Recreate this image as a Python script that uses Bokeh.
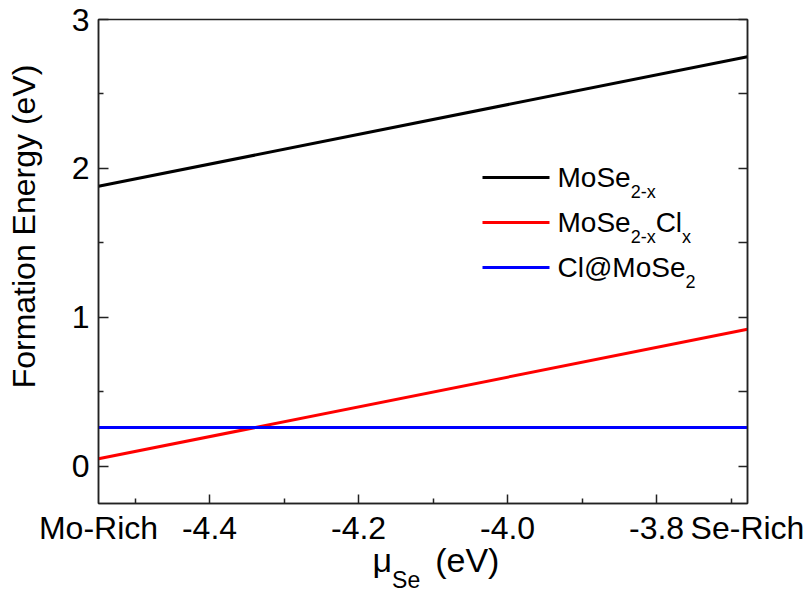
from bokeh.plotting import figure
from bokeh.layouts import column, row
from bokeh.models import (Range1d, LinearAxis, FixedTicker, PrintfTickFormatter, Label,
                          CustomJSTickFormatter)
from bokeh.embed import file_html
from bokeh.resources import INLINE

# ---------------- data ----------------
mu_se = [-4.549, -3.678]            # Mo-rich ... Se-rich limits of mu_Se (eV)
e_mose2x = [1.88, 2.75]             # MoSe2-x
e_mose2xclx = [0.05, 0.92]          # MoSe2-xClx
e_cl_mose2 = [0.26, 0.26]           # Cl@MoSe2
x_major = [-4.4, -4.2, -4.0, -3.8]
x_minor = [-4.5, -4.3, -4.1, -3.9, -3.7]
y_major = [0, 1, 2, 3]
y_minor = [0.5, 1.5, 2.5]
y_limits = [-0.25, 3.0]
end_labels = ["Mo-Rich", "Se-Rich"]
y_title = "Formation Energy (eV)"

# ---------------- layout ----------------
FONT = "Liberation Sans"
W, H = 808, 591
LEFT_W = 45                       # strip holding the y title
ML, MR, MT = 98, 61, 19           # frame margins on the full canvas
TOP_H = 505                       # height of the row with the plot
FRAME_BOTTOM = 503
BOT_H = H - TOP_H                 # strip with x tick labels and x title
BOT_T = 35
FW = W - ML - MR
FH = FRAME_BOTTOM - MT
TICK_FS = 32
TITLE_FS = 32
XTITLE_FS = 34
LEG_FS = 28
LEG_SUB_FS = 18
AX_COL = "#222222"

xr = Range1d(mu_se[0], mu_se[-1])

p = figure(width=W - LEFT_W, height=TOP_H, output_backend="svg", toolbar_location=None,
           x_range=xr, y_range=Range1d(*y_limits),
           min_border_left=ML - LEFT_W, min_border_right=MR, min_border_top=MT,
           min_border_bottom=TOP_H - FRAME_BOTTOM)
p.grid.visible = False
p.outline_line_color = AX_COL
p.outline_line_width = 1.5

def style_axis(ax, ticks, minors, tin=9, min_in=5):
    ax.ticker = FixedTicker(ticks=ticks, minor_ticks=minors)
    ax.axis_line_color = AX_COL
    ax.axis_line_width = 1.5
    ax.major_tick_line_color = AX_COL
    ax.major_tick_line_width = 1.5
    ax.minor_tick_line_color = AX_COL
    ax.minor_tick_line_width = 1.5
    ax.major_tick_in = tin
    ax.major_tick_out = 0
    ax.minor_tick_in = min_in
    ax.minor_tick_out = 0
    ax.major_label_text_font = FONT
    ax.major_label_text_font_size = f"{TICK_FS}px"
    ax.major_label_text_color = "black"

def hide_labels(ax):
    ax.formatter = CustomJSTickFormatter(code="return ''")
    ax.major_label_text_font_size = "0px"
    ax.major_label_standoff = 0

xa = p.xaxis[0]
style_axis(xa, x_major, x_minor)
hide_labels(xa)

ya = p.yaxis[0]
style_axis(ya, y_major, y_minor, tin=10)
ya.major_label_standoff = 9

ra = LinearAxis()
style_axis(ra, y_major, y_minor, tin=9, min_in=9)
hide_labels(ra)
p.add_layout(ra, "right")

# ---------------- data lines ----------------
line_colors = ["black", "#ff0000", "#0000ff"]
series = [e_mose2x, e_mose2xclx, e_cl_mose2]
for ys, c in zip(series, line_colors):
    p.line(mu_se, ys, line_color=c, line_width=3)

# ---------------- rich text helpers ----------------
ARIAL_W = {"M": .833, "o": .556, "S": .667, "e": .556, "2": .556, "-": .333, "x": .5,
           "C": .722, "l": .222, "@": 1.015, "μ": .576, " ": .278, "(": .333, ")": .333,
           "V": .667}

def text_w(s, fs):
    return sum(ARIAL_W.get(ch, .556) for ch in s) * fs

def rich(fig, parts, x, y):
    """parts: list of (text, font_size, dy, extra_gap); x, y in screen px relative to the frame."""
    cx = x
    for txt, fs, dy, gap in parts:
        cx += gap
        fig.add_layout(Label(x=cx, y=y + dy, x_units="screen", y_units="screen", text=txt,
                             text_font=FONT, text_font_size=f"{fs}px", text_color="black",
                             text_align="left", text_baseline="middle"))
        cx += text_w(txt, fs)

# ---------------- legend ----------------
leg_parts = [
    [("MoSe", LEG_FS, 0, 0), ("2-x", LEG_SUB_FS, -14, 0)],
    [("MoSe", LEG_FS, 0, 0), ("2-x", LEG_SUB_FS, -14, 0), ("Cl", LEG_FS, 0, 0), ("x", LEG_SUB_FS, -14, 0)],
    [("Cl@MoSe", LEG_FS, 0, 0), ("2", LEG_SUB_FS, -14, 0)],
]
leg_rows = [326, 281, 236]      # screen px above frame bottom
sw_x0, sw_x1, txt_x = 384, 451, 459
yr0, yr1 = y_limits
def dx(px):
    return mu_se[0] + px / FW * (mu_se[-1] - mu_se[0])
def dy_(py):
    return yr0 + py / FH * (yr1 - yr0)
for parts, rw, c in zip(leg_parts, leg_rows, line_colors):
    p.segment(x0=[dx(sw_x0)], y0=[dy_(rw)], x1=[dx(sw_x1)], y1=[dy_(rw)], line_color=c, line_width=3)
    rich(p, parts, txt_x, rw)

# ---------------- y title strip ----------------
pl = figure(width=LEFT_W, height=TOP_H, output_backend="svg", toolbar_location=None,
            x_range=Range1d(0, 1), y_range=Range1d(0, 1),
            x_axis_location=None, y_axis_location=None,
            min_border_left=0, min_border_right=0, min_border_top=0, min_border_bottom=0)
pl.grid.visible = False
pl.outline_line_color = None
pl.add_layout(Label(x=23, y=TOP_H - 228, x_units="screen", y_units="screen", text=y_title,
                    angle=90, angle_units="deg", text_font=FONT, text_font_size=f"{TITLE_FS}px",
                    text_color="black", text_align="center", text_baseline="middle"))

# ---------------- x tick labels + x title strip ----------------
pb = figure(width=W, height=BOT_H, output_backend="svg", toolbar_location=None,
            x_range=xr, y_range=Range1d(0, 1),
            x_axis_location="above", y_axis_location=None,
            min_border_left=ML, min_border_right=MR, min_border_top=BOT_T, min_border_bottom=0)
pb.grid.visible = False
pb.outline_line_color = None
ba = pb.xaxis[0]
ba.ticker = FixedTicker(ticks=[mu_se[0]] + x_major + [mu_se[-1]], minor_ticks=[])
ba.formatter = PrintfTickFormatter(format="%.1f")
ba.major_label_overrides = {mu_se[0]: end_labels[0], mu_se[-1]: end_labels[1]}
ba.axis_line_color = None
ba.major_tick_line_color = None
ba.minor_tick_line_color = None
ba.major_tick_in = 0
ba.major_tick_out = 0
ba.major_label_standoff = -5
ba.major_label_text_font = FONT
ba.major_label_text_font_size = f"{TICK_FS}px"
ba.major_label_text_color = "black"

rich(pb, [("μ", XTITLE_FS, 0, 0), ("Se", 23, -20, 0), ("(eV)", XTITLE_FS, 0, 15)], 372 - ML, 32)

layout = column(row(pl, p), pb)
open("out.html", "w").write(file_html(layout, INLINE))
